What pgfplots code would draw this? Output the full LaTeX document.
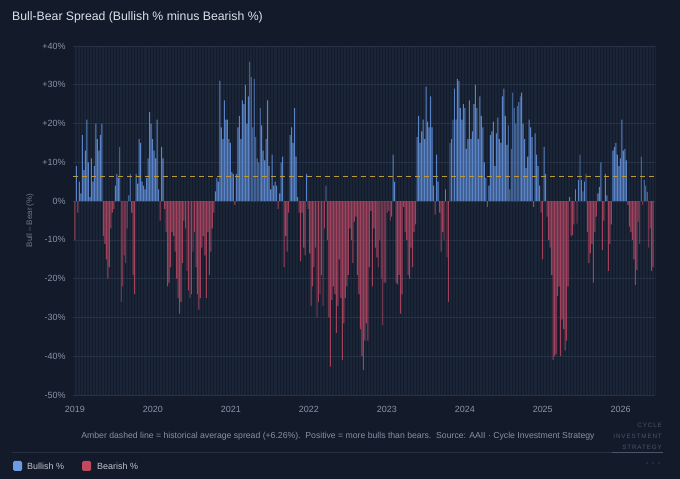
\documentclass[border=0pt]{standalone}
\usepackage{fontspec}
\setmainfont{Liberation Sans}
\newfontfamily\logofont[LetterSpace=14]{Liberation Sans}
\usepackage{pgfplots}
\pgfplotsset{compat=1.18}
\usepackage{pgfplotstable}
\definecolor{bg}{HTML}{131B2A}
\definecolor{gridh}{HTML}{273246}
\definecolor{gridv}{HTML}{1B2538}
\definecolor{bullblue}{HTML}{5A85CA}
\definecolor{bearred}{HTML}{A2425D}
\definecolor{legblue}{HTML}{6B9BE3}
\definecolor{legred}{HTML}{C0485F}
\definecolor{amber}{HTML}{BC9A3C}
\definecolor{titlec}{HTML}{DDE2EA}
\definecolor{tickc}{HTML}{8A94A6}
\definecolor{footc}{HTML}{8791A2}
\definecolor{logoc}{HTML}{4A5567}
\definecolor{sepc}{HTML}{263041}
\pgfplotstableread[row sep=\\]{v\\
-10\\ 9\\ -3\\ 5\\ 2\\ 17\\ 8\\ 13\\ 21\\ 10\\ 1\\ 11\\ 5\\ 9\\ 20\\ 16\\ 13\\ 17\\ 20\\ -9\\
-11\\ -15\\ -20\\ -17\\ -7\\ -3\\ -2\\ 4\\ 7\\ 6\\ 14\\ -26\\ -22\\ -14\\ -16\\ -7\\ 1.5\\ 7\\ -3\\ -19\\
-24\\ 7\\ 4.5\\ 16\\ 15\\ 5\\ 4\\ 3\\ 6\\ 11\\ 23\\ 20\\ 16\\ 13\\ 11\\ 21\\ 3\\ -5\\ 14\\ 11\\
-2\\ -8\\ -22\\
-21\\ -17\\ -8\\ -9\\ -13\\ -20\\ -25\\ -29\\ -26\\ -16\\ -5\\ -7\\ -18\\ -23\\ -25\\ -24\\ -13\\ -8\\ -17\\ -24\\
-28\\ -25\\ -12\\ -9\\ -14\\ -25\\ -8\\ -19\\ -13\\ -7\\ -3\\ 2.5\\ 6\\ 5\\ 31\\ 19\\ 16\\ 26\\ 21\\ 21\\
16\\ 15\\ 7.5\\ 7\\ -1\\ 7\\ 19\\ 22\\ 16\\ 26\\ 25\\ 30\\ 20\\ 27\\ 36\\ 32\\ 19\\ 31.5\\ 16.5\\ 11\\
10\\ 24\\ 19.5\\ 13\\ 10.5\\
16\\ 26\\ 9\\ 3\\ 12\\ 4\\ 5\\ 4\\ -2\\ 2\\ 10\\ 11.5\\ -17\\ -9\\ -13\\ -3\\ 17\\ 19\\ 15\\ 24\\
11.5\\ 1\\ -3\\ -15.5\\ -3\\ -12\\ -14\\ 7\\ -2\\ -13.5\\ -27\\ -22\\ -17\\ -12\\ -30\\ -26\\ -24\\ -19\\ -27\\ -7\\
4\\ -10\\ -30\\ -42.7\\ -25.5\\ -22\\ -24\\ -34\\ -27\\ -15\\ -25\\ -41\\ -31.5\\ -25\\ -22\\ -19\\ -7\\ -10\\ -16\\ -5.3\\
-4\\ -19\\ -24\\ -33\\ -40\\ -43.5\\ -36\\
-31.5\\ -36\\ -17\\ -2.5\\ -22\\ -7\\ -12\\ -14.5\\ -17\\ -10\\ -20\\ -32\\ -21\\ -21\\ -3\\ -2.5\\ -5\\ -4\\ 12\\ 5\\
-21\\ -21.5\\ -19\\ -29\\ -24\\ -1.5\\ -8\\ -10\\ -19\\ -20\\ -12\\ -17\\ -8\\ -6\\
16.5\\ 22\\ 15\\ 18\\ 21\\ 16\\ 29.5\\ 20.5\\ 19\\ 27\\ 19\\ 4\\ -3.5\\ 12\\ 5\\ -3\\ -13\\ -8\\ -10\\ 3\\
-14.5\\ -26\\ 15\\ 16\\ 21\\ 29\\ 21\\ 31.5\\ 31\\ 24\\ 21\\
25\\ 24\\ 13.5\\ 16\\ 26\\ 16\\ 18\\ 25\\ 30\\ 24\\ 16\\ 27\\ 22\\ 19\\ 10\\ 6\\ -1.5\\ 4\\ 17\\ 18\\
20.5\\ 9\\ 17.5\\ 21.5\\ 16\\ 15\\ 27\\ 29\\ 22\\ 14.5\\ 19.5\\ 3\\ 13.5\\ 28\\ 24\\ 20\\ 24.5\\ 25.5\\ 27\\ 28\\
20\\ 16\\ 8.5\\ 11.5\\ 21\\ 19\\ 16.5\\ -1.5\\ 17.5\\ 12\\ 9\\ 4\\ -3\\ -15\\ 14\\ 7\\ -4\\ -10\\ -12\\ -19\\
-41\\ -40\\ -39.5\\ -24.5\\ -22\\
-40\\ -30.5\\ -33\\ -38.5\\ -36\\ -22\\ 1\\ -9\\ -8.8\\ -6\\ 3\\ -5.8\\ 5.4\\ 12\\ 5.5\\ 2.5\\ 5\\ 7\\ -8\\ -16\\
-13.5\\ -11\\ -21\\ -8\\ -4\\ 2\\ 3.7\\ 10\\ -12.6\\ -5\\ 7\\ 1.5\\ -18\\ -11\\ -6\\ 13\\ 14\\ 15\\ 12\\ 9\\
11\\ 21\\ 13\\ 13.5\\ 10.5\\ -1\\ -6.6\\ -8\\ -10\\ -15\\ -21.6\\ -17.8\\ -5.3\\ -11\\ 11.5\\ -1\\ 5.4\\ 4\\ 2.4\\ -12\\
-7\\ -18\\ -17\\
}\spread
\begin{document}
\begin{tikzpicture}
\fill[bg] (0,0) rectangle (680bp,479bp);
\node[anchor=west, text=titlec, font=\fontsize{12.3}{14}\selectfont, inner sep=0] at (12bp,462bp) {Bull-Bear Spread (Bullish \% minus Bearish \%)};
\begin{axis}[
  at={(73bp,84bp)}, anchor=south west,
  width=582bp, height=349bp, scale only axis,
  xmin=-1.3, xmax=388.2, ymin=-50, ymax=40,
  axis line style={draw=none},
  major tick length=0, minor tick length=0,
  xtick={0,52.18,104.36,156.54,208.71,260.89,313.07,365.25},
  xticklabels={2019,2020,2021,2022,2023,2024,2025,2026},
  minor xtick={0,1,...,388},
  xminorgrids, minor grid style={color=gridv, line width=0.35bp},
  ytick={-50,-40,-30,-20,-10,0,10,20,30,40},
  yticklabels={-50\%,-40\%,-30\%,-20\%,-10\%,0\%,+10\%,+20\%,+30\%,+40\%},
  ymajorgrids, major grid style={color=gridh, line width=0.6bp},
  /pgf/number format/assume math mode=true,
  tick label style={text=tickc, font=\fontsize{9}{10}\selectfont},
  xticklabel style={yshift=-8bp},
  yticklabel style={xshift=-4bp},
  ylabel={Bull – Bear (\%)},
  ylabel style={at={(axis description cs:-0.0739,0.5)}, anchor=center, text=tickc!80!bg, font=\fontsize{8}{9}\selectfont},
]
\addplot[ybar, bar shift=0pt, bar width=0.95bp, draw=none, fill=bullblue, restrict y to domain=0:100] table[x expr=\coordindex, y=v]{\spread};
\addplot[ybar, bar shift=0pt, bar width=0.95bp, draw=none, fill=bearred, restrict y to domain=-100:0] table[x expr=\coordindex, y=v]{\spread};
\addplot[amber, line width=1bp, dash pattern=on 5bp off 4bp] coordinates {(-1.3,6.26) (388.2,6.26)};
\end{axis}
\node[text=footc, font=\fontsize{8.7}{10}\selectfont, inner sep=0] at (338bp,43bp) {Amber dashed line = historical average spread (+6.26\%).\ \ Positive = more bulls than bears.\ \ Source: AAII · Cycle Investment Strategy};
\node[anchor=east, text=logoc, font=\logofont\fontsize{6.3}{7}\selectfont, inner sep=0] at (662bp,54bp) {CYCLE};
\node[anchor=east, text=logoc, font=\logofont\fontsize{6.3}{7}\selectfont, inner sep=0] at (662bp,43bp) {INVESTMENT};
\node[anchor=east, text=logoc, font=\logofont\fontsize{6.3}{7}\selectfont, inner sep=0] at (662bp,32bp) {STRATEGY};
\draw[sepc, line width=0.8bp] (12bp,27bp) -- (663bp,27bp);
\draw[logoc, line width=0.8bp] (612bp,27bp) -- (663bp,27bp);
\fill[legblue, rounded corners=1.5bp] (13bp,8bp) rectangle (22bp,18bp);
\node[anchor=west, text=titlec!85!bg, font=\fontsize{9}{10}\selectfont, inner sep=0] at (27bp,13bp) {Bullish \%};
\fill[legred, rounded corners=1.5bp] (82bp,8bp) rectangle (91bp,18bp);
\node[anchor=west, text=titlec!85!bg, font=\fontsize{9}{10}\selectfont, inner sep=0] at (97bp,13bp) {Bearish \%};
\foreach \cx in {647,653,659} \fill[logoc!120] (\cx bp,16bp) circle (1.2bp);
\end{tikzpicture}
\end{document}
